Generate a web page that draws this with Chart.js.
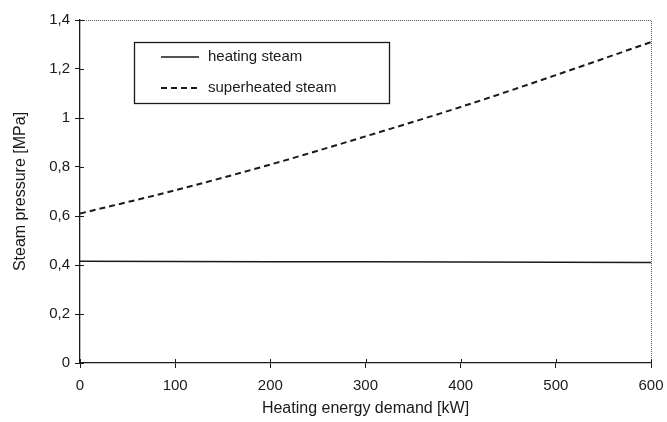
<!DOCTYPE html>
<html>
<head>
<meta charset="utf-8">
<script src="https://cdn.jsdelivr.net/npm/chart.js@4"></script>
<style>
  html, body { margin: 0; padding: 0; background: #fff; }
  #wrap { width: 667px; height: 422px; }
</style>
</head>
<body>
<div id="wrap"><canvas id="grafico"></canvas></div>
<script>
// dados
const demanda = [0, 100, 200, 300, 400, 500, 600];
const vaporAquecimento = [0.415, 0.414, 0.413, 0.413, 0.412, 0.411, 0.41];
const vaporSuperaquecido = [0.61, 0.705, 0.81, 0.925, 1.045, 1.175, 1.31];
const rotulos = ['heating steam', 'superheated steam'];
const ticksY = [0, 0.2, 0.4, 0.6, 0.8, 1, 1.2, 1.4];

const cor = '#1a1a1a';
const fonte = "'Liberation Sans', Arial, sans-serif";

// moldura pontilhada, marcas internas e legenda dentro do gráfico
const extras = {
    id: 'extras',
    afterDraw(chart) {
        const ctx = chart.ctx;
        const a = chart.chartArea;
        const x = chart.scales.x, y = chart.scales.y;
        ctx.save();
        ctx.strokeStyle = '#555';
        ctx.lineWidth = 1;
        ctx.setLineDash([1, 1]);
        ctx.beginPath();
        ctx.moveTo(a.left, a.top + 0.5);
        ctx.lineTo(a.right + 0.5, a.top + 0.5);
        ctx.lineTo(a.right + 0.5, a.bottom);
        ctx.stroke();
        ctx.setLineDash([]);

        ctx.strokeStyle = cor;
        ctx.beginPath();
        demanda.forEach(v => {
            const px = Math.round(x.getPixelForValue(v)) + 0.5;
            ctx.moveTo(px, a.bottom);
            ctx.lineTo(px, a.bottom - 4);
        });
        ticksY.forEach(v => {
            const py = Math.round(y.getPixelForValue(v)) + 0.5;
            ctx.moveTo(a.left, py);
            ctx.lineTo(a.left + 4, py);
        });
        ctx.stroke();

        // legenda
        ctx.lineWidth = 1.3;
        ctx.strokeRect(134.5, 42.5, 255, 61);
        ctx.font = '15px ' + fonte;
        ctx.fillStyle = cor;
        ctx.textBaseline = 'middle';
        chart.data.datasets.forEach((ds, i) => {
            const ly = 57 + i * 31;
            ctx.lineWidth = ds.borderWidth;
            ctx.setLineDash(ds.borderDash || []);
            ctx.beginPath();
            ctx.moveTo(161, ly);
            ctx.lineTo(199, ly);
            ctx.stroke();
            ctx.setLineDash([]);
            ctx.fillText(ds.label, 208, ly);
        });
        ctx.restore();
    }
};

function criarGrafico() {
    const ctx = document.getElementById('grafico').getContext('2d');
    new Chart(ctx, {
        type: 'line',
        data: {
            datasets: [
                {
                    label: rotulos[0],
                    data: demanda.map((d, i) => ({ x: d, y: vaporAquecimento[i] })),
                    borderColor: cor,
                    borderWidth: 1.5,
                    pointRadius: 0,
                    tension: 0
                },
                {
                    label: rotulos[1],
                    data: demanda.map((d, i) => ({ x: d, y: vaporSuperaquecido[i] })),
                    borderColor: cor,
                    borderWidth: 2,
                    borderDash: [6, 4],
                    pointRadius: 0,
                    cubicInterpolationMode: 'monotone'
                }
            ]
        },
        options: {
            responsive: true,
            maintainAspectRatio: false,
            animation: false,
            layout: { padding: { top: 20, right: 16, left: 0, bottom: 0 } },
            plugins: {
                legend: { display: false },
                tooltip: { enabled: false }
            },
            scales: {
                x: {
                    type: 'linear',
                    min: 0,
                    max: 600,
                    afterFit: s => { s.height = 59; s.paddingRight = 0; s.paddingLeft = 0; },
                    ticks: { stepSize: 100, color: cor, font: { family: fonte, size: 15 }, padding: 9, maxRotation: 0 },
                    grid: { drawOnChartArea: false, tickLength: 5, color: cor },
                    border: { color: cor, width: 1.3 },
                    title: { display: true, text: 'Heating energy demand [kW]', color: cor, font: { family: fonte, size: 16 }, padding: { top: 5 } }
                },
                y: {
                    min: 0,
                    max: 1.4,
                    afterFit: s => { s.width = 80; },
                    afterBuildTicks: s => { s.ticks = ticksY.map(v => ({ value: v })); },
                    ticks: {
                        color: cor,
                        font: { family: fonte, size: 15 },
                        padding: 5,
                        callback: v => String(Number(v.toFixed(1))).replace('.', ',')
                    },
                    grid: { drawOnChartArea: false, tickLength: 5, color: cor },
                    border: { color: cor, width: 1.3 },
                    title: { display: true, text: 'Steam pressure [MPa]', color: cor, font: { family: fonte, size: 16 }, padding: { top: 11, bottom: 2 } }
                }
            }
        },
        plugins: [extras]
    });
}

window.addEventListener('DOMContentLoaded', criarGrafico);
</script>
</body>
</html>
